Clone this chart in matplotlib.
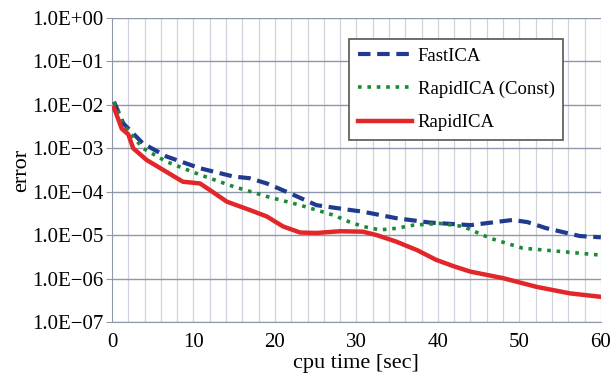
import matplotlib.pyplot as plt
import numpy as np

# values (time in sec, log10 of error)
t_fast = [0.25, 1.4, 3.8, 6.7, 10.8, 14.9, 16.9, 19.0, 21.4, 25.1, 29.2,
          30.8, 34.9, 39.0, 44.0, 47.0, 49.2, 51.0, 53.3, 57.4, 60.0]
log_fast = [-1.93, -2.43, -2.89, -3.19, -3.46, -3.65, -3.69, -3.81, -4.00, -4.31, -4.42,
            -4.46, -4.61, -4.71, -4.77, -4.70, -4.65, -4.70, -4.84, -5.02, -5.05]

t_const = [0.25, 1.4, 3.8, 6.7, 10.8, 14.9, 19.0, 23.1, 27.2, 29.2, 30.8,
           32.9, 35.0, 37.0, 40.2, 43.1, 46.4, 50.4, 55.3, 60.0]
log_const = [-1.93, -2.46, -3.00, -3.31, -3.61, -3.88, -4.11, -4.31, -4.54, -4.70, -4.80,
             -4.88, -4.84, -4.77, -4.73, -4.80, -5.07, -5.30, -5.38, -5.46]

t_rapid = [0.25, 1.2, 2.0, 2.6, 4.25, 6.3, 8.7, 10.8, 12.0, 14.1, 16.9, 19.0, 21.0,
           23.1, 25.1, 28.0, 30.8, 32.5, 34.9, 37.5, 39.8, 42.0, 44.0, 48.0, 52.1, 56.2, 60.0]
log_rapid = [-2.07, -2.55, -2.68, -3.00, -3.27, -3.50, -3.77, -3.81, -3.96, -4.23, -4.42, -4.57, -4.80,
             -4.94, -4.95, -4.91, -4.92, -5.00, -5.15, -5.35, -5.57, -5.72, -5.84, -5.99, -6.19, -6.34, -6.42]

ytick_vals = [1e0, 1e-1, 1e-2, 1e-3, 1e-4, 1e-5, 1e-6, 1e-7]
ytick_labels = ['1.0E+00', '1.0E\u221201', '1.0E\u221202', '1.0E\u221203',
                '1.0E\u221204', '1.0E\u221205', '1.0E\u221206', '1.0E\u221207']
xtick_vals = [0, 10, 20, 30, 40, 50, 60]

plt.rcParams['font.family'] = ['Liberation Serif', 'DejaVu Serif']

fig = plt.figure(figsize=(6.1, 3.82), dpi=100)
ax = fig.add_axes([0.1836, 0.157, 0.8014, 0.796])

ax.set_yscale('log')
ax.set_xlim(0, 60)
ax.set_ylim(1e-7, 1e0)

# grid
for xv in np.arange(2, 61, 2):
    ax.axvline(xv, color='#d0d3de', lw=0.9, zorder=0)
for yv in ytick_vals:
    ax.axhline(yv, color='#8f97ab', lw=1.0, zorder=0)

ax.plot(t_fast, 10 ** np.array(log_fast), color='#1f3a8f', lw=3, ls=(0, (3, 1.6)),
        label='FastICA', zorder=3)
ax.plot(t_const, 10 ** np.array(log_const), color='#1a8a35', lw=2.6, ls=(0, (1, 1.6)),
        label='RapidICA (Const)', zorder=3)
ax.plot(t_rapid, 10 ** np.array(log_rapid), color='#e3262a', lw=3.2,
        label='RapidICA', zorder=4)

ax.set_yticks(ytick_vals)
ax.set_yticklabels(ytick_labels)
ax.minorticks_off()
ax.set_xticks(xtick_vals)
ax.tick_params(axis='y', labelsize=15, length=4, color='#8f97ab', pad=2)
ax.tick_params(axis='x', labelsize=15, length=0, pad=8)

for side in ['top', 'right']:
    ax.spines[side].set_visible(False)
ax.spines['left'].set_color('#8f97ab')
ax.spines['bottom'].set_color('#8f97ab')

ax.set_ylabel('error', fontsize=16, labelpad=1)
ax.set_xlabel('cpu time [sec]', fontsize=16, labelpad=1)

leg = ax.legend(loc='upper left', bbox_to_anchor=(0.485, 0.93), fontsize=13.5,
                frameon=True, fancybox=False, handlelength=2.9, labelspacing=0.85,
                borderpad=0.45, handletextpad=0.3, borderaxespad=0)
leg.get_frame().set_edgecolor('#555550')
leg.get_frame().set_linewidth(1.2)
leg.get_frame().set_alpha(1)

fig.savefig('out.png', dpi=100)
